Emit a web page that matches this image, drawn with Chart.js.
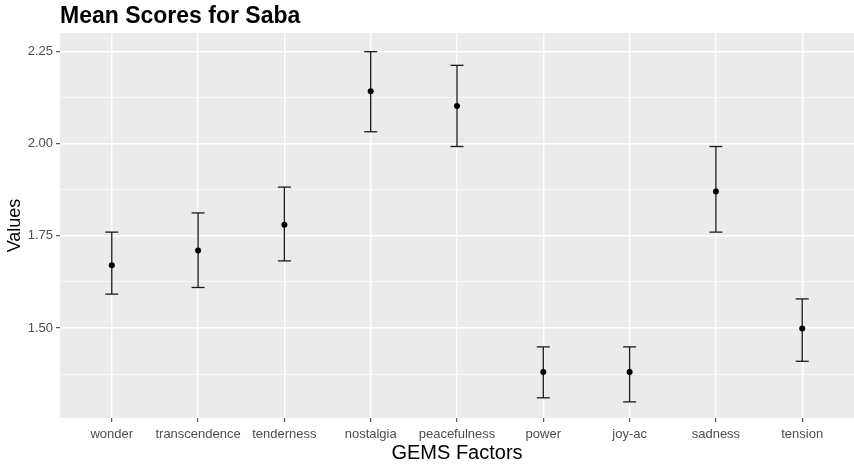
<!DOCTYPE html>
<html>
<head>
<meta charset="utf-8">
<script src="https://cdn.jsdelivr.net/npm/chart.js@4.4.1/dist/chart.umd.min.js"></script>
<style>
  html, body { margin: 0; padding: 0; background: #fff; overflow: hidden; }
  #wrap { width: 854px; height: 466px; }
</style>
</head>
<body>
<div id="wrap"><canvas id="chart"></canvas></div>
<script>
// GEMS factor means with error bars
const factors = ['wonder', 'transcendence', 'tenderness', 'nostalgia', 'peacefulness', 'power', 'joy-ac', 'sadness', 'tension'];
const means = [1.67, 1.71, 1.78, 2.142, 2.102, 1.381, 1.381, 1.870, 1.499];
const lower = [1.592, 1.610, 1.682, 2.032, 1.992, 1.311, 1.300, 1.760, 1.410];
const upper = [1.760, 1.812, 1.882, 2.249, 2.212, 1.449, 1.449, 1.992, 1.579];
const yTicks = [1.375, 1.5, 1.625, 1.75, 1.875, 2.0, 2.125, 2.25];
const yMin = 1.2563, yMax = 2.2996;

const fontFam = '"Liberation Sans", Arial, sans-serif';
const isMajor = v => Math.abs(v * 4 - Math.round(v * 4)) < 1e-6;

const meanPts = means.map((m, i) => ({ x: i + 1, y: m }));
const barPts = [];
factors.forEach((f, i) => {
  barPts.push({ x: i + 1, y: lower[i] }, { x: i + 1, y: upper[i] }, { x: i + 1, y: null });
});
const capPts = [];
factors.forEach((f, i) => {
  capPts.push({ x: i + 1, y: lower[i] }, { x: i + 1, y: upper[i] });
});

const panelBg = {
  id: 'panelBg',
  beforeDraw(chart) {
    const { ctx, chartArea: a } = chart;
    ctx.save();
    ctx.fillStyle = '#EBEBEB';
    ctx.fillRect(a.left, a.top, a.right - a.left, a.bottom - a.top);
    ctx.restore();
  },
  afterDraw(chart) {
    const { ctx, chartArea: a } = chart;
    ctx.save();
    ctx.fillStyle = '#000';
    ctx.font = 'bold 23px ' + fontFam;
    ctx.textBaseline = 'alphabetic';
    ctx.textAlign = 'left';
    ctx.fillText('Mean Scores for Saba', a.left, 23);
    ctx.restore();
  }
};

new Chart(document.getElementById('chart'), {
  type: 'scatter',
  data: {
    datasets: [
      { label: 'mean', data: meanPts, pointRadius: 3, pointHoverRadius: 3, backgroundColor: '#000', borderWidth: 0 },
      { label: 'caps', data: capPts, pointStyle: 'line', pointRadius: 6.5, pointHoverRadius: 6.5, borderColor: '#1a1a1a', borderWidth: 1.3 },
      { type: 'line', label: 'bars', data: barPts, showLine: true, spanGaps: false, pointRadius: 0, borderColor: '#1a1a1a', borderWidth: 1.3, fill: false }
    ]
  },
  options: {
    responsive: true,
    maintainAspectRatio: false,
    animation: false,
    events: [],
    layout: { autoPadding: false, padding: { top: 33, right: 0, bottom: 0, left: 0 } },
    plugins: { legend: { display: false }, tooltip: { enabled: false }, title: { display: false } },
    scales: {
      x: {
        type: 'linear',
        min: 0.4,
        max: 9.6,
        afterBuildTicks: s => { s.ticks = factors.map((f, i) => ({ value: i + 1 })); },
        afterFit: s => { s.height = 48; s.paddingLeft = 0; s.paddingRight = 0; },
        border: { display: false },
        grid: { color: '#FFFFFF', lineWidth: 1.4, tickColor: '#333333', tickLength: 4, tickWidth: 1 },
        ticks: {
          color: '#4D4D4D',
          font: { family: fontFam, size: 13 },
          padding: 5,
          maxRotation: 0,
          autoSkip: false,
          callback: v => factors[v - 1]
        },
        title: { display: true, text: 'GEMS Factors', color: '#000', font: { family: fontFam, size: 20 }, padding: { top: 0, bottom: 1 } }
      },
      y: {
        type: 'linear',
        min: yMin,
        max: yMax,
        afterBuildTicks: s => { s.ticks = yTicks.map(v => ({ value: v })); },
        afterFit: s => { s.width = 60; s.paddingTop = 0; s.paddingBottom = 0; },
        border: { display: false },
        grid: {
          color: '#FFFFFF',
          lineWidth: c => (c.tick && isMajor(c.tick.value)) ? 1.4 : 0.7,
          tickColor: c => (c.tick && isMajor(c.tick.value)) ? '#333333' : 'rgba(0,0,0,0)',
          tickLength: 4,
          tickWidth: 1
        },
        ticks: {
          color: '#4D4D4D',
          font: { family: fontFam, size: 13 },
          padding: 3,
          autoSkip: false,
          callback: v => isMajor(v) ? v.toFixed(2) : ''
        },
        title: { display: true, text: 'Values', color: '#000', font: { family: fontFam, size: 18 }, padding: { top: 4, bottom: 0 } }
      }
    }
  },
  plugins: [panelBg]
});
</script>
</body>
</html>
